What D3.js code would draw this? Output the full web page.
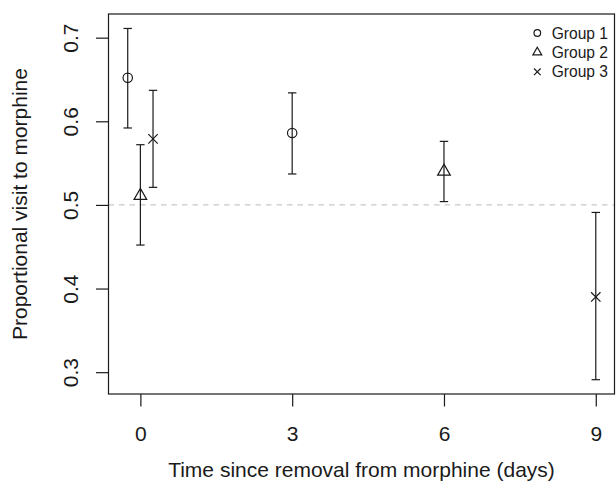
<!DOCTYPE html>
<html>
<head>
<meta charset="utf-8">
<script src="https://cdn.jsdelivr.net/npm/d3@7"></script>
<style>
  body { margin: 0; background: #fff; }
  #chart text { font-family: "Liberation Sans", Arial, Helvetica, sans-serif; fill: #1a1a1a; }
</style>
</head>
<body>
<div id="chart"></div>
<script>
// data
var groups = ["Group 1", "Group 2", "Group 3"];
var groupIds = [1, 1, 2, 2, 3, 3];
var days = [-0.25, 3, 0, 6, 0.25, 9];
var means = [0.652, 0.586, 0.511, 0.540, 0.579, 0.390];
var lowers = [0.592, 0.537, 0.452, 0.504, 0.521, 0.291];
var uppers = [0.711, 0.634, 0.572, 0.576, 0.637, 0.491];
var xTicks = [0, 3, 6, 9];
var yTicks = [0.3, 0.4, 0.5, 0.6, 0.7];
var refLevel = 0.5;

/**
 * Constructor for the error bar chart
 */
function ErrorBarChart(){
    var self = this;
    self.init();
};

/**
 * Sets up the svg, scales and the plot box
 */
ErrorBarChart.prototype.init = function(){
    var self = this;
    self.width = 616;
    self.height = 481;
    self.margin = {top: 14, right: 1.5, bottom: 87, left: 108.5};

    self.svg = d3.select("#chart").append("svg")
        .attr("width", self.width)
        .attr("height", self.height);

    self.x = d3.scaleLinear()
        .domain([-0.63, 9.37])
        .range([self.margin.left, self.width - self.margin.right]);

    self.y = d3.scaleLinear()
        .domain([0.2739, 0.7283])
        .range([self.height - self.margin.bottom, self.margin.top]);
};

/**
 * Draws a point symbol for a group (1 circle, 2 triangle, 3 cross)
 */
ErrorBarChart.prototype.symbol = function(g, id, cx, cy, r){
    if (id == 1) {
        g.append("circle")
            .attr("cx", cx).attr("cy", cy).attr("r", r)
            .attr("fill", "none").attr("stroke", "#1a1a1a").attr("stroke-width", 1.2);
    }
    else if (id == 2) {
        var pts = [[cx, cy - 1.555 * r], [cx + 1.347 * r, cy + 0.778 * r], [cx - 1.347 * r, cy + 0.778 * r]];
        g.append("polygon")
            .attr("points", pts.map(function(p){ return p.join(","); }).join(" "))
            .attr("fill", "none").attr("stroke", "#1a1a1a").attr("stroke-width", 1.2);
    }
    else {
        g.append("path")
            .attr("d", "M" + (cx - r) + "," + (cy - r) + "L" + (cx + r) + "," + (cy + r) +
                       "M" + (cx - r) + "," + (cy + r) + "L" + (cx + r) + "," + (cy - r))
            .attr("fill", "none").attr("stroke", "#1a1a1a").attr("stroke-width", 1.2);
    }
};

/**
 * Draws axes, reference line, error bars, points and legend
 */
ErrorBarChart.prototype.update = function(){
    var self = this;
    var svg = self.svg;
    var bottom = self.height - self.margin.bottom;
    var fontSize = "21px";

    //dashed reference line at 0.5
    svg.append("line")
        .attr("x1", self.margin.left).attr("x2", self.width - self.margin.right)
        .attr("y1", self.y(refLevel)).attr("y2", self.y(refLevel))
        .attr("stroke", "#c8c8c8").attr("stroke-width", 1.2)
        .attr("stroke-dasharray", "5.5,5");

    //x axis
    var xAxis = svg.append("g")
        .attr("transform", "translate(0," + bottom + ")")
        .call(d3.axisBottom(self.x).tickValues(xTicks).tickSize(12.5).tickPadding(0).tickFormat(d3.format("d")));
    xAxis.select(".domain").remove();
    xAxis.selectAll(".tick line").attr("stroke", "#1a1a1a").attr("stroke-width", 1.2);
    xAxis.selectAll(".tick text")
        .attr("y", 46.7).attr("dy", null)
        .attr("font-size", fontSize).attr("fill", "#1a1a1a");

    //y axis with rotated labels
    var yAxis = svg.append("g")
        .attr("transform", "translate(" + self.margin.left + ",0)")
        .call(d3.axisLeft(self.y).tickValues(yTicks).tickSize(12.5).tickFormat(d3.format(".1f")));
    yAxis.select(".domain").remove();
    yAxis.selectAll(".tick line").attr("stroke", "#1a1a1a").attr("stroke-width", 1.2);
    yAxis.selectAll(".tick text")
        .attr("transform", "rotate(-90)")
        .attr("x", 0).attr("y", -30.5).attr("dy", null)
        .attr("text-anchor", "middle")
        .attr("font-size", fontSize).attr("fill", "#1a1a1a");

    //plot box
    svg.append("rect")
        .attr("x", self.margin.left).attr("y", self.margin.top)
        .attr("width", self.width - self.margin.left - self.margin.right)
        .attr("height", bottom - self.margin.top)
        .attr("fill", "none").attr("stroke", "#1a1a1a").attr("stroke-width", 1.2);

    //error bars
    var capHalf = 4.2;
    var bars = svg.append("g").attr("stroke", "#1a1a1a").attr("stroke-width", 1.2);
    days.forEach(function(d, i){
        var cx = self.x(d);
        bars.append("line")
            .attr("x1", cx).attr("x2", cx)
            .attr("y1", self.y(lowers[i])).attr("y2", self.y(uppers[i]));
        bars.append("line")
            .attr("x1", cx - capHalf).attr("x2", cx + capHalf)
            .attr("y1", self.y(uppers[i])).attr("y2", self.y(uppers[i]));
        bars.append("line")
            .attr("x1", cx - capHalf).attr("x2", cx + capHalf)
            .attr("y1", self.y(lowers[i])).attr("y2", self.y(lowers[i]));
    });

    //points
    var pts = svg.append("g");
    days.forEach(function(d, i){
        self.symbol(pts, groupIds[i], self.x(d), self.y(means[i]), 4.7);
    });

    //legend
    var legend = svg.append("g");
    groups.forEach(function(name, i){
        var ly = 33 + i * 19.4;
        self.symbol(legend, i + 1, 537.3, ly, 3.3);
        legend.append("text")
            .attr("x", 551.7).attr("y", ly + 5.5)
            .attr("font-size", "15.6px")
            .text(name);
    });

    //axis titles
    svg.append("text")
        .attr("x", (self.margin.left + self.width - self.margin.right) / 2)
        .attr("y", 477.3)
        .attr("text-anchor", "middle")
        .attr("font-size", fontSize)
        .text("Time since removal from morphine (days)");

    svg.append("text")
        .attr("transform", "translate(27," + ((self.margin.top + bottom) / 2) + ") rotate(-90)")
        .attr("text-anchor", "middle")
        .attr("font-size", fontSize)
        .text("Proportional visit to morphine");
};

var chart = new ErrorBarChart();
chart.update();
</script>
</body>
</html>
